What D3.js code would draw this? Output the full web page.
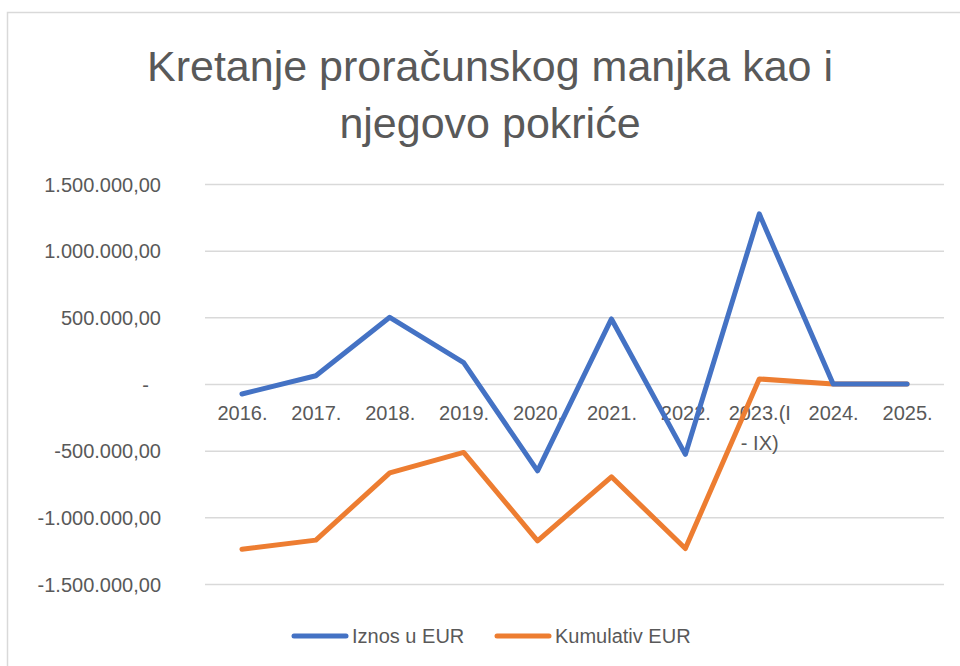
<!DOCTYPE html>
<html>
<head>
<meta charset="utf-8">
<script src="https://cdn.jsdelivr.net/npm/d3@7"></script>
<style>
  body { margin: 0; background: #fff; }
  text { font-family: "Liberation Sans", Arial, sans-serif; fill: #595959; }
</style>
</head>
<body>
<div id="chart"></div>
<script>
const svgWidth = 960
const svgHeight = 666

// Data
const years = ["2016.", "2017.", "2018.", "2019.", "2020.", "2021.", "2022.", "2023.(I - IX)", "2024.", "2025."]
const iznos = [-75000, 62000, 500000, 160000, -651000, 488000, -528000, 1276000, 0, 0]
const kumulativ = [-1239000, -1171000, -666000, -513000, -1176000, -696000, -1234000, 38000, 0, 0]
const yTicks = [-1500000, -1000000, -500000, 0, 500000, 1000000, 1500000]

const series = [
  { name: "Iznos u EUR", values: iznos, color: "#4472C4" },
  { name: "Kumulativ EUR", values: kumulativ, color: "#ED7D31" }
]

let margin = { top: 184, right: 16, bottom: 82, left: 205 }
let width = svgWidth - margin.left - margin.right
let height = 584 - margin.top

let svg = d3.select("#chart")
  .append("svg")
  .attr("width", svgWidth)
  .attr("height", svgHeight)

// chart border
svg.append("rect")
  .attr("x", 7.5)
  .attr("y", 12.5)
  .attr("width", 980)
  .attr("height", 700)
  .attr("fill", "none")
  .attr("stroke", "#d9d9d9")
  .attr("stroke-width", 1.5)

// title
let title = svg.append("text")
  .attr("text-anchor", "middle")
  .style("font-size", "43px")
title.append("tspan").attr("x", 490).attr("y", 81).text("Kretanje proračunskog manjka kao i")
title.append("tspan").attr("x", 490).attr("y", 138).text("njegovo pokriće")

let chartGroup = svg.append("g")
  .attr("transform", `translate(${margin.left}, ${margin.top})`)

let xScale = d3.scalePoint()
  .domain(years)
  .range([0, width])
  .padding(0.5)

let yScale = d3.scaleLinear()
  .domain([-1500000, 1500000])
  .range([height, 0])

const hr = d3.formatLocale({ decimal: ",", thousands: ".", grouping: [3], currency: ["", ""], minus: "-" })
const fmt = hr.format(",.2f")

// gridlines + y labels
let yAxis = chartGroup.append("g")
  .call(d3.axisLeft(yScale)
    .tickValues(yTicks)
    .tickSize(-width)
    .tickPadding(44)
    .tickFormat(d => d === 0 ? "-" : fmt(d)))
yAxis.select(".domain").remove()
yAxis.selectAll(".tick line").attr("stroke", "#d9d9d9").attr("stroke-width", 1.5)
yAxis.selectAll(".tick text")
  .attr("fill", "#595959")
  .style("font-size", "20px")
  .attr("dy", "0.35em")
yAxis.selectAll(".tick text").filter(d => d === 0).attr("dx", -12)

// x labels along the zero line
let xAxis = chartGroup.append("g")
  .attr("transform", `translate(0, ${yScale(0)})`)
  .call(d3.axisBottom(xScale).tickSize(0).tickPadding(0))
xAxis.select(".domain").remove()
xAxis.selectAll(".tick text").remove()
xAxis.selectAll(".tick").each(function(d) {
  let t = d3.select(this).append("text")
    .attr("text-anchor", "middle")
    .style("font-size", "20px")
  if (d.indexOf(" - ") > 0) {
    let parts = d.split(" ")
    t.append("tspan").attr("x", 0).attr("y", 36).text(parts[0])
    t.append("tspan").attr("x", 0).attr("y", 66).text(parts.slice(1).join(" "))
  } else {
    t.attr("y", 36).text(d)
  }
})

let line = d3.line()
  .x((d, i) => xScale(years[i]))
  .y(d => yScale(d))

chartGroup.selectAll(".series")
  .data(series.slice().reverse())
  .enter()
  .append("path")
  .attr("class", "series")
  .attr("d", d => line(d.values))
  .attr("fill", "none")
  .attr("stroke", d => d.color)
  .attr("stroke-width", 5)
  .attr("stroke-linejoin", "round")
  .attr("stroke-linecap", "round")

// legend
let legendX = [292, 495]
let legend = svg.selectAll(".legend")
  .data(series)
  .enter()
  .append("g")
  .attr("class", "legend")
  .attr("transform", (d, i) => `translate(${legendX[i]}, 636)`)
legend.append("line")
  .attr("x1", 2).attr("x2", 54)
  .attr("stroke", d => d.color)
  .attr("stroke-width", 5)
  .attr("stroke-linecap", "round")
legend.append("text")
  .attr("x", 60)
  .attr("dy", "0.35em")
  .style("font-size", "20px")
  .text(d => d.name)
</script>
</body>
</html>
